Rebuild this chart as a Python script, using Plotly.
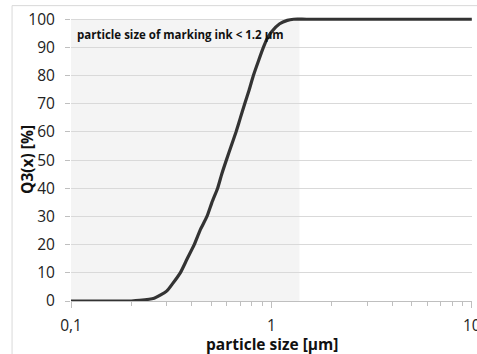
import plotly.graph_objects as go

# data
particle_size = [0.1, 0.2, 0.22, 0.26, 0.3, 0.32, 0.351, 0.38, 0.412, 0.44, 0.477, 0.505, 0.539, 0.565, 0.596, 0.63, 0.666, 0.70, 0.736, 0.775, 0.813, 0.86, 0.912, 0.95, 1.0, 1.1, 1.2, 1.29, 1.5, 10]
q3 = [0, 0, 0.2, 1, 3.5, 6, 10, 15, 20, 25, 30, 35, 40, 45, 50, 55, 60, 65, 70, 75, 80, 85, 90, 93, 95.5, 98.4, 99.6, 100, 100, 100]
shade_range = [0.1, 1.38]
x_tickvals = [0.1, 1, 10]
x_ticktext = ["0,1", "1", "10"]
x_minor = [0.2, 0.3, 0.4, 0.5, 0.6, 0.7, 0.8, 0.9, 2, 3, 4, 5, 6, 7, 8, 9]
y_tickvals = list(range(0, 101, 10))

FONT = "Open Sans"
fig = go.Figure()
fig.add_trace(go.Scatter(
    x=particle_size, y=q3, mode="lines",
    line=dict(color="#333333", width=3.2, shape="spline", smoothing=0.6),
    hoverinfo="skip", showlegend=False,
))

fig.add_shape(type="rect", xref="x", yref="y",
              x0=shade_range[0], x1=shade_range[1], y0=0, y1=100,
              fillcolor="#f4f4f4", line=dict(width=0), layer="below")

# outer chart border (left and top visible)
fig.add_shape(type="rect", xref="paper", yref="paper",
              x0=-0.147, x1=1.2, y0=-0.5, y1=1.04,
              line=dict(color="#d9d9d9", width=1), fillcolor="rgba(0,0,0,0)", layer="above")

fig.add_annotation(text="<b>particle size of marking ink < 1.2 µm</b>",
                   xref="paper", yref="paper", x=0.01, y=0.937,
                   xanchor="left", yanchor="middle", showarrow=False,
                   font=dict(family=FONT, size=11.5, color="#111111"))

fig.add_annotation(text="<b>particle size [µm]</b>", xref="paper", yref="paper",
                   x=0.5, y=-0.153, xanchor="center", yanchor="middle", showarrow=False,
                   font=dict(family=FONT, size=15.5, color="#111111"))
fig.add_annotation(text="<b>Q3(x) [%]</b>", xref="paper", yref="paper", textangle=-90,
                   x=-0.11, y=0.5, xanchor="center", yanchor="middle", showarrow=False,
                   font=dict(family=FONT, size=15.5, color="#111111"))

fig.update_layout(
    width=477, height=354,
    margin=dict(l=71, r=5, t=17, b=53),
    paper_bgcolor="white", plot_bgcolor="white",
    font=dict(family=FONT, color="#222222"),
    xaxis=dict(
        type="log", range=[-1, 1.001], automargin=False,
        tickmode="array", tickvals=x_tickvals, ticktext=x_ticktext,
        ticks="outside", ticklen=6, tickcolor="#bfbfbf",
        tickfont=dict(size=15.5, color="#222222"),
        ticklabelstandoff=4, ticklabeloverflow="allow",
        showgrid=False, showline=True, linecolor="#bfbfbf", linewidth=1,
        zeroline=False,
        minor=dict(tickmode="array", tickvals=x_minor, ticks="outside", ticklen=4, tickcolor="#bfbfbf", showgrid=False),
    ),
    yaxis=dict(
        range=[0, 100.8], automargin=False,
        tickmode="array", tickvals=y_tickvals,
        ticks="outside", ticklen=5, tickcolor="#bfbfbf",
        tickfont=dict(size=15.5, color="#222222"),
        ticklabelstandoff=7,
        showgrid=True, gridcolor="#d9d9d9", gridwidth=1,
        showline=False, zeroline=False,
    ),
)

fig.write_html("out.html", config={"displayModeBar": False},
               post_script="document.body.style.margin='0';document.body.style.overflow='hidden';")
